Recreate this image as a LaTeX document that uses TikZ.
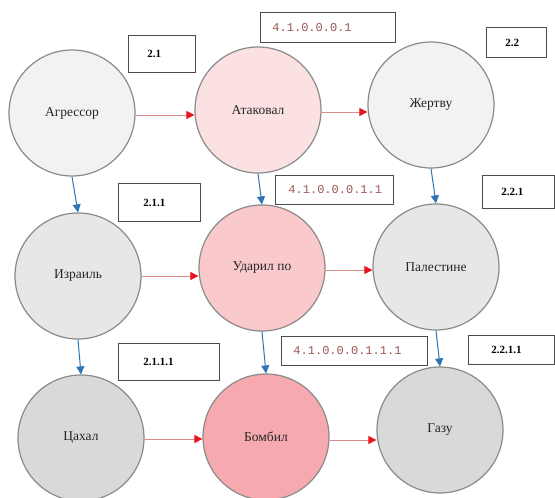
\documentclass[tikz,border=0pt]{standalone}
\usepackage{fontspec}
\setmainfont{Liberation Serif}
\setmonofont{Liberation Mono}
\usetikzlibrary{arrows.meta}
\definecolor{ringgray}{HTML}{8A8A8A}
\definecolor{fillA}{HTML}{F2F2F2}
\definecolor{fillB}{HTML}{FCE1E2}
\definecolor{fillD}{HTML}{E7E7E7}
\definecolor{fillE}{HTML}{F9C9CC}
\definecolor{fillG}{HTML}{D9D9D9}
\definecolor{fillH}{HTML}{F6A9AE}
\definecolor{codered}{HTML}{9E5554}
\definecolor{redline}{HTML}{D98C8C}
\definecolor{arrred}{HTML}{E8141E}
\definecolor{blueline}{HTML}{2E75B6}
\tikzset{
  x=1pt, y=-1pt,
  circ/.style={circle, draw=ringgray, line width=1.2pt, minimum size=126pt, inner sep=0pt, text=black!85, font=\fontsize{13.5}{15}\selectfont},
  numbox/.style={draw=black!70, line width=0.9pt, anchor=north west, inner ysep=0pt, align=left, font=\fontsize{11}{12}\selectfont\bfseries},
  codebox/.style={draw=black!70, line width=0.9pt, anchor=north west, inner ysep=0pt, inner xsep=12pt, align=left, text=codered, font=\ttfamily\fontsize{12}{14}\selectfont}
}
\tikzset{
  redarr/.style={draw=redline, line width=0.8pt, -{Triangle[length=8pt,width=8pt,fill=arrred,color=arrred]}},
  bluearr/.style={draw=blueline, line width=1pt, -{Triangle[length=8pt,width=8pt,fill=blueline,color=blueline]}}
}
\begin{document}
\begin{tikzpicture}
\useasboundingbox[fill=white] (0,0) rectangle (555,498);
% circles
\node[circ, fill=fillA] (A) at (72,113) {Агрессор};
\node[circ, fill=fillB] (B) at (258,110) {Атаковал};
\node[circ, fill=fillA] (C) at (431,105) {Жертву};
\node[circ, fill=fillD] (D) at (78,276) {Израиль};
\node[circ, fill=fillE] (E) at (262,268) {Ударил по};
\node[circ, fill=fillD] (F) at (436,267) {Палестине};
\node[circ, fill=fillG] (G) at (81,438) {Цахал};
\node[circ, fill=fillH] (H) at (266,437) {Бомбил};
\node[circ, fill=fillG] (I) at (440,430) {Газу};
% label boxes
\node[numbox, inner xsep=19pt, text width=29pt, minimum height=37pt] (b21) at (128,35) {2.1};
\node[codebox, text width=111pt, minimum height=30pt] (c1) at (260,12) {4.1.0.0.0.1};
\node[numbox, inner xsep=19pt, text width=22pt, minimum height=30pt] (b22) at (486,27) {2.2};
\node[numbox, inner xsep=25pt, text width=32pt, minimum height=38pt] (b211) at (118,183) {2.1.1};
\node[codebox, inner xsep=13pt, text width=92pt, minimum height=29pt] (c2) at (275,175) {4.1.0.0.0.1.1};
\node[numbox, inner xsep=19pt, text width=34pt, minimum height=33pt] (b221) at (482,175) {2.2.1};
\node[numbox, inner xsep=25pt, text width=51pt, minimum height=37pt] (b2111) at (118,343) {2.1.1.1};
\node[codebox, text width=122pt, minimum height=29pt] (c3) at (281,336) {4.1.0.0.0.1.1.1};
\node[numbox, inner xsep=23pt, text width=40pt, minimum height=29pt] (b2211) at (468,335) {2.2.1.1};
% red horizontal arrows
\draw[redarr] ([yshift=-2pt]A.east) -- ([yshift=-2pt]A.east -| B.west);
\draw[redarr] ([yshift=-2pt]B.east) -- ([yshift=-2pt]B.east -| C.west);
\draw[redarr] (D.east) -- (D.east -| E.west);
\draw[redarr] ([yshift=-2pt]E.east) -- ([yshift=-2pt]E.east -| F.west);
\draw[redarr] ([yshift=-1pt]G.east) -- ([yshift=-1pt]G.east -| H.west);
\draw[redarr] ([yshift=-3pt]H.east) -- ([yshift=-3pt]H.east -| I.west);
% blue vertical arrows
\draw[bluearr] (A.south) -- (D.north);
\draw[bluearr] (B.south) -- (E.north);
\draw[bluearr] (C.south) -- (F.north);
\draw[bluearr] (D.south) -- (G.north);
\draw[bluearr] (E.south) -- (H.north);
\draw[bluearr] (F.south) -- (I.north);
\end{tikzpicture}
\end{document}
